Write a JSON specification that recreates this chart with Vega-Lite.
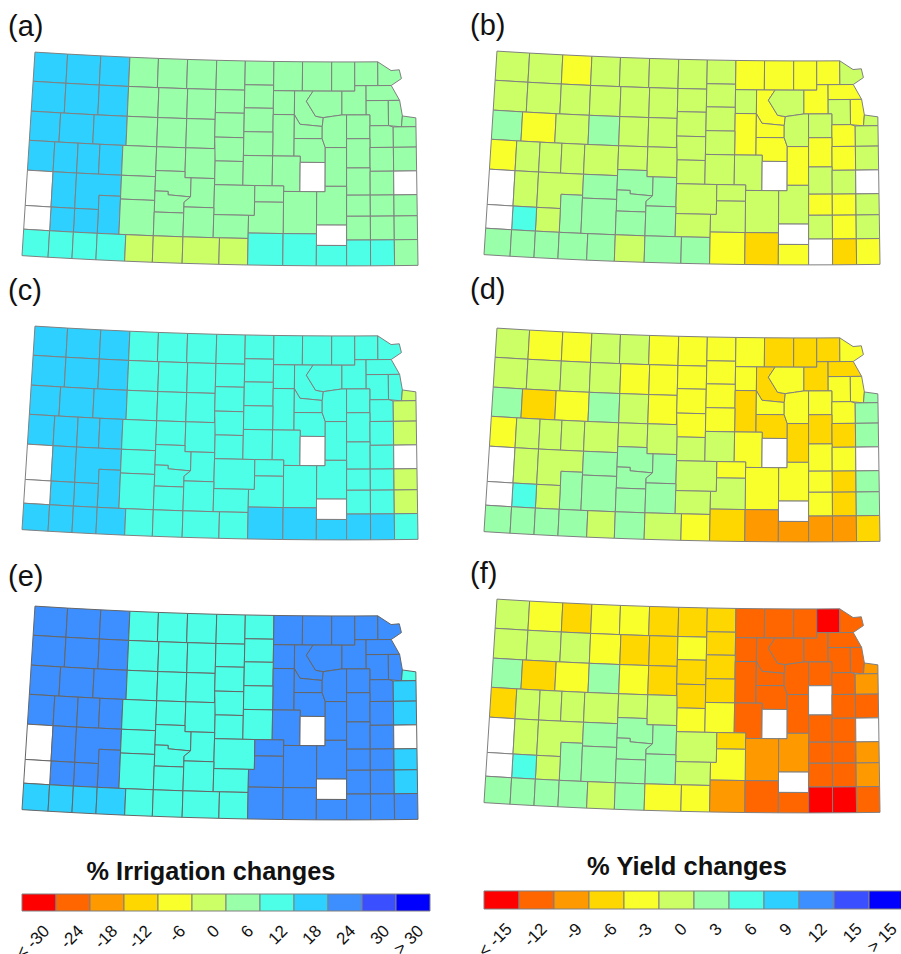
{"$schema":"https://vega.github.io/schema/vega-lite/v6.json","padding":{"left":8,"top":12,"right":0,"bottom":0},"background":"white","config":{"view":{"stroke":null},"font":"Liberation Sans","title":{"font":"Liberation Sans"}},
"datasets":{"counties":[
{"type":"Feature","properties":{"n":"Cheyenne","a":9,"b":6,"c":9,"d":6,"e":10,"f":6},"geometry":{"type":"Polygon","coordinates":[[[-102.05,40],[-101.41,40],[-101.41,39.57],[-102.05,39.57],[-102.05,40]]]}},
{"type":"Feature","properties":{"n":"Rawlins","a":9,"b":6,"c":9,"d":5,"e":10,"f":5},"geometry":{"type":"Polygon","coordinates":[[[-101.41,40],[-100.76,40],[-100.76,39.57],[-101.41,39.57],[-101.41,40]]]}},
{"type":"Feature","properties":{"n":"Decatur","a":9,"b":5,"c":9,"d":5,"e":10,"f":4},"geometry":{"type":"Polygon","coordinates":[[[-100.76,40],[-100.19,40],[-100.19,39.57],[-100.76,39.57],[-100.76,40]]]}},
{"type":"Feature","properties":{"n":"Norton","a":7,"b":6,"c":8,"d":6,"e":8,"f":5},"geometry":{"type":"Polygon","coordinates":[[[-100.19,40],[-99.63,40],[-99.63,39.57],[-100.19,39.57],[-100.19,40]]]}},
{"type":"Feature","properties":{"n":"Phillips","a":7,"b":6,"c":8,"d":6,"e":8,"f":5},"geometry":{"type":"Polygon","coordinates":[[[-99.63,40],[-99.06,40],[-99.06,39.57],[-99.63,39.57],[-99.63,40]]]}},
{"type":"Feature","properties":{"n":"Smith","a":7,"b":6,"c":8,"d":5,"e":8,"f":4},"geometry":{"type":"Polygon","coordinates":[[[-99.06,40],[-98.49,40],[-98.49,39.57],[-99.06,39.57],[-99.06,40]]]}},
{"type":"Feature","properties":{"n":"Jewell","a":7,"b":6,"c":8,"d":5,"e":8,"f":4},"geometry":{"type":"Polygon","coordinates":[[[-98.49,40],[-97.93,40],[-97.93,39.57],[-98.49,39.57],[-98.49,40]]]}},
{"type":"Feature","properties":{"n":"Republic","a":7,"b":6,"c":8,"d":5,"e":8,"f":4},"geometry":{"type":"Polygon","coordinates":[[[-97.93,40],[-97.37,40],[-97.37,39.65],[-97.93,39.65],[-97.93,40]]]}},
{"type":"Feature","properties":{"n":"Washington","a":7,"b":5,"c":8,"d":5,"e":10,"f":2},"geometry":{"type":"Polygon","coordinates":[[[-97.37,40],[-96.81,40],[-96.81,39.57],[-97.37,39.57],[-97.37,40]]]}},
{"type":"Feature","properties":{"n":"Marshall","a":7,"b":5,"c":8,"d":4,"e":10,"f":2},"geometry":{"type":"Polygon","coordinates":[[[-96.81,40],[-96.24,40],[-96.24,39.57],[-96.81,39.57],[-96.81,40]]]}},
{"type":"Feature","properties":{"n":"Nemaha","a":7,"b":5,"c":8,"d":4,"e":10,"f":2},"geometry":{"type":"Polygon","coordinates":[[[-96.24,40],[-95.79,40],[-95.79,39.57],[-96.24,39.57],[-96.24,40]]]}},
{"type":"Feature","properties":{"n":"Brown","a":7,"b":5,"c":8,"d":4,"e":10,"f":1},"geometry":{"type":"Polygon","coordinates":[[[-95.79,40],[-95.34,40],[-95.34,39.65],[-95.79,39.65],[-95.79,40]]]}},
{"type":"Feature","properties":{"n":"Doniphan","a":7,"b":6,"c":8,"d":5,"e":10,"f":2},"geometry":{"type":"Polygon","coordinates":[[[-95.34,40],[-95.08,39.87],[-94.92,39.88],[-94.88,39.75],[-95.08,39.65],[-95.34,39.65],[-95.34,40]]]}},
{"type":"Feature","properties":{"n":"Sherman","a":9,"b":6,"c":9,"d":6,"e":10,"f":6},"geometry":{"type":"Polygon","coordinates":[[[-102.05,39.57],[-101.41,39.57],[-101.41,39.13],[-102.05,39.13],[-102.05,39.57]]]}},
{"type":"Feature","properties":{"n":"Thomas","a":9,"b":6,"c":9,"d":6,"e":10,"f":6},"geometry":{"type":"Polygon","coordinates":[[[-101.41,39.57],[-100.76,39.57],[-100.76,39.13],[-101.41,39.13],[-101.41,39.57]]]}},
{"type":"Feature","properties":{"n":"Sheridan","a":9,"b":6,"c":9,"d":6,"e":10,"f":6},"geometry":{"type":"Polygon","coordinates":[[[-100.76,39.57],[-100.19,39.57],[-100.19,39.13],[-100.76,39.13],[-100.76,39.57]]]}},
{"type":"Feature","properties":{"n":"Graham","a":7,"b":6,"c":8,"d":6,"e":8,"f":5},"geometry":{"type":"Polygon","coordinates":[[[-100.19,39.57],[-99.6,39.57],[-99.6,39.13],[-100.19,39.13],[-100.19,39.57]]]}},
{"type":"Feature","properties":{"n":"Rooks","a":7,"b":6,"c":8,"d":5,"e":8,"f":4},"geometry":{"type":"Polygon","coordinates":[[[-99.6,39.57],[-99.04,39.57],[-99.04,39.13],[-99.6,39.13],[-99.6,39.57]]]}},
{"type":"Feature","properties":{"n":"Osborne","a":7,"b":6,"c":8,"d":5,"e":8,"f":4},"geometry":{"type":"Polygon","coordinates":[[[-99.04,39.57],[-98.49,39.57],[-98.49,39.13],[-99.04,39.13],[-99.04,39.57]]]}},
{"type":"Feature","properties":{"n":"Mitchell","a":7,"b":6,"c":8,"d":5,"e":8,"f":5},"geometry":{"type":"Polygon","coordinates":[[[-98.49,39.57],[-97.93,39.57],[-97.93,39.23],[-98.49,39.23],[-98.49,39.57]]]}},
{"type":"Feature","properties":{"n":"Cloud","a":7,"b":6,"c":8,"d":5,"e":8,"f":4},"geometry":{"type":"Polygon","coordinates":[[[-97.93,39.65],[-97.37,39.65],[-97.37,39.31],[-97.93,39.31],[-97.93,39.65]]]}},
{"type":"Feature","properties":{"n":"Clay","a":7,"b":6,"c":8,"d":5,"e":10,"f":2},"geometry":{"type":"Polygon","coordinates":[[[-97.37,39.57],[-96.96,39.57],[-96.96,39.22],[-97.37,39.22],[-97.37,39.57]]]}},
{"type":"Feature","properties":{"n":"Riley","a":7,"b":5,"c":8,"d":4,"e":10,"f":2},"geometry":{"type":"Polygon","coordinates":[[[-96.96,39.57],[-96.6,39.57],[-96.73,39.42],[-96.55,39.2],[-96.4,39.18],[-96.42,39.05],[-96.85,39.08],[-96.96,39.22],[-96.96,39.57]]]}},
{"type":"Feature","properties":{"n":"Pottawatomie","a":7,"b":6,"c":8,"d":5,"e":10,"f":2},"geometry":{"type":"Polygon","coordinates":[[[-96.6,39.57],[-96.04,39.57],[-96.04,39.22],[-96.22,39.2],[-96.4,39.18],[-96.55,39.2],[-96.73,39.42],[-96.6,39.57]]]}},
{"type":"Feature","properties":{"n":"Jackson","a":7,"b":5,"c":8,"d":4,"e":10,"f":2},"geometry":{"type":"Polygon","coordinates":[[[-96.04,39.57],[-95.79,39.57],[-95.79,39.65],[-95.57,39.65],[-95.57,39.22],[-96.04,39.22],[-96.04,39.57]]]}},
{"type":"Feature","properties":{"n":"Atchison","a":7,"b":5,"c":8,"d":4,"e":10,"f":2},"geometry":{"type":"Polygon","coordinates":[[[-95.57,39.65],[-95.08,39.65],[-94.92,39.43],[-95.57,39.43],[-95.57,39.65]]]}},
{"type":"Feature","properties":{"n":"Jefferson","a":7,"b":6,"c":8,"d":5,"e":10,"f":2},"geometry":{"type":"Polygon","coordinates":[[[-95.57,39.43],[-95.14,39.43],[-95.14,39.06],[-95.5,39.06],[-95.5,39.22],[-95.57,39.22],[-95.57,39.43]]]}},
{"type":"Feature","properties":{"n":"Leavenworth","a":7,"b":5,"c":8,"d":5,"e":10,"f":2},"geometry":{"type":"Polygon","coordinates":[[[-95.14,39.43],[-94.92,39.43],[-94.87,39.2],[-94.89,39.04],[-95.14,39.06],[-95.14,39.43]]]}},
{"type":"Feature","properties":{"n":"Wyandotte","a":7,"b":6,"c":6,"d":7,"e":8,"f":3},"geometry":{"type":"Polygon","coordinates":[[[-94.87,39.2],[-94.61,39.17],[-94.61,39.04],[-94.89,39.04],[-94.87,39.2]]]}},
{"type":"Feature","properties":{"n":"Wallace","a":9,"b":7,"c":9,"d":7,"e":10,"f":7},"geometry":{"type":"Polygon","coordinates":[[[-102.05,39.13],[-101.48,39.13],[-101.48,38.7],[-102.05,38.7],[-102.05,39.13]]]}},
{"type":"Feature","properties":{"n":"Logan","a":9,"b":5,"c":9,"d":4,"e":10,"f":4},"geometry":{"type":"Polygon","coordinates":[[[-101.48,39.13],[-100.83,39.13],[-100.83,38.7],[-101.48,38.7],[-101.48,39.13]]]}},
{"type":"Feature","properties":{"n":"Gove","a":9,"b":6,"c":9,"d":5,"e":10,"f":5},"geometry":{"type":"Polygon","coordinates":[[[-100.83,39.13],[-100.19,39.13],[-100.19,38.7],[-100.83,38.7],[-100.83,39.13]]]}},
{"type":"Feature","properties":{"n":"Trego","a":7,"b":7,"c":8,"d":7,"e":8,"f":7},"geometry":{"type":"Polygon","coordinates":[[[-100.19,39.13],[-99.6,39.13],[-99.6,38.7],[-100.19,38.7],[-100.19,39.13]]]}},
{"type":"Feature","properties":{"n":"Ellis","a":7,"b":6,"c":8,"d":6,"e":8,"f":5},"geometry":{"type":"Polygon","coordinates":[[[-99.6,39.13],[-99.04,39.13],[-99.04,38.7],[-99.6,38.7],[-99.6,39.13]]]}},
{"type":"Feature","properties":{"n":"Russell","a":7,"b":6,"c":8,"d":5,"e":8,"f":4},"geometry":{"type":"Polygon","coordinates":[[[-99.04,39.13],[-98.49,39.13],[-98.49,38.7],[-99.04,38.7],[-99.04,39.13]]]}},
{"type":"Feature","properties":{"n":"Lincoln","a":7,"b":6,"c":8,"d":5,"e":8,"f":4},"geometry":{"type":"Polygon","coordinates":[[[-98.49,39.23],[-97.93,39.23],[-97.93,38.87],[-98.49,38.87],[-98.49,39.23]]]}},
{"type":"Feature","properties":{"n":"Ottawa","a":7,"b":6,"c":8,"d":5,"e":8,"f":4},"geometry":{"type":"Polygon","coordinates":[[[-97.93,39.31],[-97.37,39.31],[-97.37,38.96],[-97.93,38.96],[-97.93,39.31]]]}},
{"type":"Feature","properties":{"n":"Dickinson","a":7,"b":5,"c":8,"d":4,"e":10,"f":2},"geometry":{"type":"Polygon","coordinates":[[[-97.37,39.22],[-96.96,39.22],[-96.96,38.61],[-97.37,38.61],[-97.37,39.22]]]}},
{"type":"Feature","properties":{"n":"Geary","a":7,"b":5,"c":8,"d":5,"e":10,"f":2},"geometry":{"type":"Polygon","coordinates":[[[-96.96,39.22],[-96.85,39.08],[-96.42,39.05],[-96.42,38.87],[-96.96,38.87],[-96.96,39.22]]]}},
{"type":"Feature","properties":{"n":"Morris","a":7,"b":5,"c":8,"d":4,"e":10,"f":2},"geometry":{"type":"Polygon","coordinates":[[[-96.96,38.87],[-96.42,38.87],[-96.36,38.74],[-96.36,38.52],[-96.84,38.52],[-96.84,38.61],[-96.96,38.61],[-96.96,38.87]]]}},
{"type":"Feature","properties":{"n":"Wabaunsee","a":7,"b":6,"c":8,"d":5,"e":10,"f":2},"geometry":{"type":"Polygon","coordinates":[[[-96.42,39.05],[-96.4,39.18],[-96.22,39.2],[-96.04,39.22],[-95.95,39.22],[-95.95,38.74],[-96.36,38.74],[-96.42,38.87],[-96.42,39.05]]]}},
{"type":"Feature","properties":{"n":"Shawnee","a":7,"b":6,"c":8,"d":5,"e":10,"f":2},"geometry":{"type":"Polygon","coordinates":[[[-95.95,39.22],[-95.5,39.22],[-95.5,38.87],[-95.95,38.87],[-95.95,39.22]]]}},
{"type":"Feature","properties":{"n":"Douglas","a":7,"b":5,"c":8,"d":5,"e":10,"f":2},"geometry":{"type":"Polygon","coordinates":[[[-95.5,39.06],[-95.14,39.06],[-95.05,39.04],[-95.05,38.74],[-95.5,38.74],[-95.5,39.06]]]}},
{"type":"Feature","properties":{"n":"Johnson","a":7,"b":6,"c":6,"d":7,"e":9,"f":3},"geometry":{"type":"Polygon","coordinates":[[[-95.05,39.04],[-94.61,39.04],[-94.61,38.74],[-95.05,38.74],[-95.05,39.04]]]}},
{"type":"Feature","properties":{"n":"Greeley","a":9,"b":5,"c":9,"d":5,"e":10,"f":4},"geometry":{"type":"Polygon","coordinates":[[[-102.05,38.7],[-101.56,38.7],[-101.56,38.26],[-102.05,38.26],[-102.05,38.7]]]}},
{"type":"Feature","properties":{"n":"Wichita","a":9,"b":6,"c":9,"d":6,"e":10,"f":6},"geometry":{"type":"Polygon","coordinates":[[[-101.56,38.7],[-101.11,38.7],[-101.11,38.26],[-101.56,38.26],[-101.56,38.7]]]}},
{"type":"Feature","properties":{"n":"Scott","a":9,"b":6,"c":9,"d":6,"e":10,"f":6},"geometry":{"type":"Polygon","coordinates":[[[-101.11,38.7],[-100.69,38.7],[-100.69,38.26],[-101.11,38.26],[-101.11,38.7]]]}},
{"type":"Feature","properties":{"n":"Lane","a":9,"b":6,"c":9,"d":6,"e":10,"f":6},"geometry":{"type":"Polygon","coordinates":[[[-100.69,38.7],[-100.25,38.7],[-100.25,38.26],[-100.69,38.26],[-100.69,38.7]]]}},
{"type":"Feature","properties":{"n":"Ness","a":7,"b":6,"c":8,"d":6,"e":8,"f":6},"geometry":{"type":"Polygon","coordinates":[[[-100.25,38.7],[-99.6,38.7],[-99.6,38.26],[-100.25,38.26],[-100.25,38.7]]]}},
{"type":"Feature","properties":{"n":"Rush","a":7,"b":6,"c":8,"d":6,"e":8,"f":6},"geometry":{"type":"Polygon","coordinates":[[[-99.6,38.7],[-99.04,38.7],[-99.04,38.35],[-99.6,38.35],[-99.6,38.7]]]}},
{"type":"Feature","properties":{"n":"Barton","a":7,"b":6,"c":8,"d":6,"e":8,"f":6},"geometry":{"type":"Polygon","coordinates":[[[-99.04,38.7],[-98.47,38.7],[-98.47,38.26],[-98.92,38.26],[-99.04,38.26],[-99.04,38.7]]]}},
{"type":"Feature","properties":{"n":"Ellsworth","a":7,"b":6,"c":8,"d":5,"e":8,"f":4},"geometry":{"type":"Polygon","coordinates":[[[-98.49,38.87],[-97.93,38.87],[-97.93,38.52],[-98.47,38.52],[-98.49,38.87]]]}},
{"type":"Feature","properties":{"n":"Saline","a":7,"b":6,"c":8,"d":5,"e":8,"f":4},"geometry":{"type":"Polygon","coordinates":[[[-97.93,38.96],[-97.37,38.96],[-97.37,38.61],[-97.93,38.61],[-97.93,38.96]]]}},
{"type":"Feature","properties":{"n":"Rice","a":7,"b":6,"c":8,"d":6,"e":8,"f":5},"geometry":{"type":"Polygon","coordinates":[[[-98.47,38.52],[-97.93,38.52],[-97.93,38.17],[-98.47,38.17],[-98.47,38.52]]]}},
{"type":"Feature","properties":{"n":"McPherson","a":7,"b":6,"c":8,"d":6,"e":8,"f":5},"geometry":{"type":"Polygon","coordinates":[[[-97.93,38.61],[-97.37,38.61],[-97.37,38.17],[-97.93,38.17],[-97.93,38.61]]]}},
{"type":"Feature","properties":{"n":"Marion","a":7,"b":6,"c":8,"d":5,"e":10,"f":2},"geometry":{"type":"Polygon","coordinates":[[[-97.37,38.61],[-96.84,38.61],[-96.84,38.09],[-97.15,38.09],[-97.15,38.17],[-97.37,38.17],[-97.37,38.61]]]}},
{"type":"Feature","properties":{"n":"Chase","a":0,"b":0,"c":0,"d":0,"e":0,"f":0},"geometry":{"type":"Polygon","coordinates":[[[-96.84,38.52],[-96.36,38.52],[-96.36,38.09],[-96.84,38.09],[-96.84,38.52]]]}},
{"type":"Feature","properties":{"n":"Lyon","a":7,"b":5,"c":8,"d":4,"e":10,"f":2},"geometry":{"type":"Polygon","coordinates":[[[-96.36,38.74],[-95.95,38.74],[-95.95,38.17],[-96.36,38.17],[-96.36,38.74]]]}},
{"type":"Feature","properties":{"n":"Osage","a":7,"b":5,"c":8,"d":4,"e":10,"f":0},"geometry":{"type":"Polygon","coordinates":[[[-95.95,38.87],[-95.5,38.87],[-95.5,38.44],[-95.95,38.44],[-95.95,38.87]]]}},
{"type":"Feature","properties":{"n":"Franklin","a":7,"b":5,"c":8,"d":4,"e":10,"f":2},"geometry":{"type":"Polygon","coordinates":[[[-95.5,38.74],[-95.05,38.74],[-95.05,38.39],[-95.5,38.39],[-95.5,38.74]]]}},
{"type":"Feature","properties":{"n":"Miami","a":7,"b":6,"c":6,"d":7,"e":9,"f":2},"geometry":{"type":"Polygon","coordinates":[[[-95.05,38.74],[-94.61,38.74],[-94.61,38.39],[-95.05,38.39],[-95.05,38.74]]]}},
{"type":"Feature","properties":{"n":"Coffey","a":7,"b":6,"c":8,"d":5,"e":10,"f":2},"geometry":{"type":"Polygon","coordinates":[[[-95.95,38.44],[-95.5,38.44],[-95.5,38.04],[-95.95,38.04],[-95.95,38.44]]]}},
{"type":"Feature","properties":{"n":"Anderson","a":7,"b":6,"c":8,"d":5,"e":10,"f":2},"geometry":{"type":"Polygon","coordinates":[[[-95.5,38.39],[-95.05,38.39],[-95.05,38.04],[-95.5,38.04],[-95.5,38.39]]]}},
{"type":"Feature","properties":{"n":"Linn","a":0,"b":0,"c":0,"d":0,"e":0,"f":0},"geometry":{"type":"Polygon","coordinates":[[[-95.05,38.39],[-94.61,38.39],[-94.61,38.04],[-95.05,38.04],[-95.05,38.39]]]}},
{"type":"Feature","properties":{"n":"Hamilton","a":0,"b":0,"c":0,"d":0,"e":0,"f":0},"geometry":{"type":"Polygon","coordinates":[[[-102.05,38.26],[-101.56,38.26],[-101.56,37.74],[-102.05,37.74],[-102.05,38.26]]]}},
{"type":"Feature","properties":{"n":"Kearny","a":9,"b":6,"c":9,"d":6,"e":10,"f":6},"geometry":{"type":"Polygon","coordinates":[[[-101.56,38.26],[-101.11,38.26],[-101.11,37.74],[-101.56,37.74],[-101.56,38.26]]]}},
{"type":"Feature","properties":{"n":"Finney","a":9,"b":6,"c":9,"d":6,"e":10,"f":6},"geometry":{"type":"Polygon","coordinates":[[[-101.11,38.26],[-100.25,38.26],[-100.25,37.95],[-100.66,37.95],[-100.66,37.74],[-101.11,37.74],[-101.11,38.26]]]}},
{"type":"Feature","properties":{"n":"Hodgeman","a":7,"b":7,"c":8,"d":7,"e":8,"f":7},"geometry":{"type":"Polygon","coordinates":[[[-100.25,38.26],[-99.6,38.26],[-99.6,37.91],[-100.25,37.91],[-100.25,38.26]]]}},
{"type":"Feature","properties":{"n":"Pawnee","a":7,"b":7,"c":8,"d":7,"e":8,"f":7},"geometry":{"type":"Polygon","coordinates":[[[-99.6,38.35],[-99.04,38.35],[-99.04,38.26],[-98.92,38.26],[-98.92,37.98],[-99.35,38],[-99.35,38.05],[-99.6,38.05],[-99.6,38.35]]]}},
{"type":"Feature","properties":{"n":"Edwards","a":7,"b":7,"c":8,"d":7,"e":8,"f":7},"geometry":{"type":"Polygon","coordinates":[[[-99.6,38.05],[-99.35,38.05],[-99.35,38],[-98.92,37.98],[-99.04,37.9],[-99.04,37.74],[-99.6,37.74],[-99.6,38.05]]]}},
{"type":"Feature","properties":{"n":"Stafford","a":7,"b":7,"c":8,"d":7,"e":8,"f":7},"geometry":{"type":"Polygon","coordinates":[[[-98.92,38.26],[-98.47,38.26],[-98.47,37.83],[-99.04,37.83],[-99.04,37.9],[-98.92,37.98],[-98.92,38.26]]]}},
{"type":"Feature","properties":{"n":"Reno","a":7,"b":6,"c":8,"d":6,"e":8,"f":6},"geometry":{"type":"Polygon","coordinates":[[[-98.47,38.17],[-97.7,38.17],[-97.7,37.73],[-98.47,37.73],[-98.47,38.17]]]}},
{"type":"Feature","properties":{"n":"Harvey","a":7,"b":6,"c":8,"d":5,"e":10,"f":4},"geometry":{"type":"Polygon","coordinates":[[[-97.7,38.17],[-97.15,38.17],[-97.15,37.93],[-97.7,37.93],[-97.7,38.17]]]}},
{"type":"Feature","properties":{"n":"Butler","a":7,"b":6,"c":8,"d":5,"e":10,"f":3},"geometry":{"type":"Polygon","coordinates":[[[-97.15,38.09],[-96.52,38.09],[-96.52,37.47],[-97.15,37.47],[-97.15,38.09]]]}},
{"type":"Feature","properties":{"n":"Greenwood","a":7,"b":6,"c":8,"d":5,"e":10,"f":3},"geometry":{"type":"Polygon","coordinates":[[[-96.52,38.09],[-96.36,38.09],[-96.36,38.17],[-95.95,38.17],[-95.95,37.6],[-96.52,37.6],[-96.52,38.09]]]}},
{"type":"Feature","properties":{"n":"Woodson","a":7,"b":5,"c":8,"d":5,"e":10,"f":2},"geometry":{"type":"Polygon","coordinates":[[[-95.95,38.04],[-95.5,38.04],[-95.5,37.73],[-95.95,37.73],[-95.95,38.04]]]}},
{"type":"Feature","properties":{"n":"Allen","a":7,"b":5,"c":8,"d":4,"e":10,"f":2},"geometry":{"type":"Polygon","coordinates":[[[-95.5,38.04],[-95.05,38.04],[-95.05,37.73],[-95.5,37.73],[-95.5,38.04]]]}},
{"type":"Feature","properties":{"n":"Bourbon","a":7,"b":6,"c":6,"d":7,"e":9,"f":3},"geometry":{"type":"Polygon","coordinates":[[[-95.05,38.04],[-94.61,38.04],[-94.61,37.73],[-95.05,37.73],[-95.05,38.04]]]}},
{"type":"Feature","properties":{"n":"Gray","a":9,"b":7,"c":9,"d":7,"e":10,"f":7},"geometry":{"type":"Polygon","coordinates":[[[-100.66,37.95],[-100.25,37.95],[-100.25,37.39],[-100.66,37.39],[-100.66,37.95]]]}},
{"type":"Feature","properties":{"n":"Ford","a":7,"b":7,"c":8,"d":7,"e":8,"f":7},"geometry":{"type":"Polygon","coordinates":[[[-100.25,37.91],[-99.6,37.91],[-99.6,37.39],[-100.25,37.39],[-100.25,37.91]]]}},
{"type":"Feature","properties":{"n":"Haskell","a":9,"b":6,"c":9,"d":6,"e":10,"f":6},"geometry":{"type":"Polygon","coordinates":[[[-101.11,37.74],[-100.66,37.74],[-100.66,37.39],[-101.11,37.39],[-101.11,37.74]]]}},
{"type":"Feature","properties":{"n":"Grant","a":9,"b":8,"c":9,"d":8,"e":10,"f":8},"geometry":{"type":"Polygon","coordinates":[[[-101.56,37.74],[-101.11,37.74],[-101.11,37.39],[-101.56,37.39],[-101.56,37.74]]]}},
{"type":"Feature","properties":{"n":"Stanton","a":0,"b":0,"c":0,"d":0,"e":0,"f":0},"geometry":{"type":"Polygon","coordinates":[[[-102.05,37.74],[-101.56,37.74],[-101.56,37.39],[-102.05,37.39],[-102.05,37.74]]]}},
{"type":"Feature","properties":{"n":"Kiowa","a":7,"b":7,"c":8,"d":7,"e":8,"f":7},"geometry":{"type":"Polygon","coordinates":[[[-99.6,37.74],[-99.04,37.74],[-99.04,37.39],[-99.6,37.39],[-99.6,37.74]]]}},
{"type":"Feature","properties":{"n":"Pratt","a":7,"b":7,"c":8,"d":7,"e":8,"f":7},"geometry":{"type":"Polygon","coordinates":[[[-99.04,37.83],[-98.47,37.83],[-98.47,37.39],[-99.04,37.39],[-99.04,37.83]]]}},
{"type":"Feature","properties":{"n":"Kingman","a":7,"b":6,"c":8,"d":6,"e":8,"f":6},"geometry":{"type":"Polygon","coordinates":[[[-98.47,37.73],[-97.81,37.73],[-97.81,37.39],[-98.47,37.39],[-98.47,37.73]]]}},
{"type":"Feature","properties":{"n":"Sedgwick","a":7,"b":6,"c":8,"d":6,"e":10,"f":5},"geometry":{"type":"Polygon","coordinates":[[[-97.7,37.93],[-97.15,37.93],[-97.15,37.47],[-97.81,37.47],[-97.81,37.73],[-97.7,37.73],[-97.7,37.93]]]}},
{"type":"Feature","properties":{"n":"Elk","a":0,"b":0,"c":0,"d":0,"e":0,"f":0},"geometry":{"type":"Polygon","coordinates":[[[-96.52,37.6],[-95.95,37.6],[-95.95,37.3],[-96.52,37.3],[-96.52,37.6]]]}},
{"type":"Feature","properties":{"n":"Wilson","a":7,"b":6,"c":8,"d":5,"e":10,"f":2},"geometry":{"type":"Polygon","coordinates":[[[-95.95,37.73],[-95.5,37.73],[-95.5,37.38],[-95.95,37.38],[-95.95,37.73]]]}},
{"type":"Feature","properties":{"n":"Neosho","a":7,"b":5,"c":8,"d":4,"e":10,"f":2},"geometry":{"type":"Polygon","coordinates":[[[-95.5,37.73],[-95.05,37.73],[-95.05,37.38],[-95.5,37.38],[-95.5,37.73]]]}},
{"type":"Feature","properties":{"n":"Crawford","a":7,"b":6,"c":6,"d":7,"e":9,"f":3},"geometry":{"type":"Polygon","coordinates":[[[-95.05,37.73],[-94.61,37.73],[-94.61,37.38],[-95.05,37.38],[-95.05,37.73]]]}},
{"type":"Feature","properties":{"n":"Morton","a":8,"b":7,"c":9,"d":7,"e":9,"f":7},"geometry":{"type":"Polygon","coordinates":[[[-102.05,37.39],[-101.56,37.39],[-101.56,37],[-102.05,37],[-102.05,37.39]]]}},
{"type":"Feature","properties":{"n":"Stevens","a":8,"b":7,"c":9,"d":7,"e":9,"f":7},"geometry":{"type":"Polygon","coordinates":[[[-101.56,37.39],[-101.11,37.39],[-101.11,37],[-101.56,37],[-101.56,37.39]]]}},
{"type":"Feature","properties":{"n":"Seward","a":8,"b":7,"c":9,"d":7,"e":9,"f":7},"geometry":{"type":"Polygon","coordinates":[[[-101.11,37.39],[-100.66,37.39],[-100.66,37],[-101.11,37],[-101.11,37.39]]]}},
{"type":"Feature","properties":{"n":"Meade","a":8,"b":7,"c":9,"d":7,"e":9,"f":7},"geometry":{"type":"Polygon","coordinates":[[[-100.66,37.39],[-100.12,37.39],[-100.12,37],[-100.66,37],[-100.66,37.39]]]}},
{"type":"Feature","properties":{"n":"Clark","a":6,"b":7,"c":8,"d":6,"e":8,"f":6},"geometry":{"type":"Polygon","coordinates":[[[-100.12,37.39],[-99.6,37.39],[-99.6,37],[-100.12,37],[-100.12,37.39]]]}},
{"type":"Feature","properties":{"n":"Comanche","a":6,"b":6,"c":8,"d":7,"e":8,"f":7},"geometry":{"type":"Polygon","coordinates":[[[-99.6,37.39],[-99.04,37.39],[-99.04,37],[-99.6,37],[-99.6,37.39]]]}},
{"type":"Feature","properties":{"n":"Barber","a":6,"b":7,"c":8,"d":6,"e":8,"f":5},"geometry":{"type":"Polygon","coordinates":[[[-99.04,37.39],[-98.35,37.39],[-98.35,37],[-99.04,37],[-99.04,37.39]]]}},
{"type":"Feature","properties":{"n":"Harper","a":6,"b":7,"c":8,"d":5,"e":8,"f":5},"geometry":{"type":"Polygon","coordinates":[[[-98.35,37.39],[-97.81,37.39],[-97.81,37],[-98.35,37],[-98.35,37.39]]]}},
{"type":"Feature","properties":{"n":"Sumner","a":8,"b":5,"c":9,"d":4,"e":10,"f":3},"geometry":{"type":"Polygon","coordinates":[[[-97.81,37.47],[-97.15,37.47],[-97.15,37],[-97.81,37],[-97.81,37.47]]]}},
{"type":"Feature","properties":{"n":"Cowley","a":8,"b":4,"c":9,"d":3,"e":10,"f":2},"geometry":{"type":"Polygon","coordinates":[[[-97.15,37.47],[-96.52,37.47],[-96.52,37],[-97.15,37],[-97.15,37.47]]]}},
{"type":"Feature","properties":{"n":"Chautauqua","a":8,"b":5,"c":9,"d":3,"e":10,"f":2},"geometry":{"type":"Polygon","coordinates":[[[-96.52,37.3],[-95.95,37.3],[-95.95,37],[-96.52,37],[-96.52,37.3]]]}},
{"type":"Feature","properties":{"n":"Montgomery","a":8,"b":0,"c":9,"d":3,"e":10,"f":1},"geometry":{"type":"Polygon","coordinates":[[[-95.95,37.38],[-95.5,37.38],[-95.5,37],[-95.95,37],[-95.95,37.38]]]}},
{"type":"Feature","properties":{"n":"Labette","a":8,"b":4,"c":9,"d":3,"e":10,"f":1},"geometry":{"type":"Polygon","coordinates":[[[-95.5,37.38],[-95.05,37.38],[-95.05,37],[-95.5,37],[-95.5,37.38]]]}},
{"type":"Feature","properties":{"n":"Cherokee","a":7,"b":5,"c":8,"d":4,"e":10,"f":2},"geometry":{"type":"Polygon","coordinates":[[[-95.05,37.38],[-94.61,37.38],[-94.61,37],[-95.05,37],[-95.05,37.38]]]}}
],
"irrig":[{"l":"< -30","k":1},{"l":"-24","k":2},{"l":"-18","k":3},{"l":"-12","k":4},{"l":"-6","k":5},{"l":"0","k":6},{"l":"6","k":7},{"l":"12","k":8},{"l":"18","k":9},{"l":"24","k":10},{"l":"30","k":11},{"l":"> 30","k":12}],
"yield":[{"l":"< -15","k":1},{"l":"-12","k":2},{"l":"-9","k":3},{"l":"-6","k":4},{"l":"-3","k":5},{"l":"0","k":6},{"l":"3","k":7},{"l":"6","k":8},{"l":"9","k":9},{"l":"12","k":10},{"l":"15","k":11},{"l":"> 15","k":12}]},
"hconcat":[
{"vconcat":[
{"width":396,"height":230,"title":{"text":"(a)","anchor":"start","dx":-12,"dy":2,"fontSize":29,"fontWeight":"normal","color":"#111"},"data":{"name":"counties"},"projection":{"type":"albers"},"mark":{"type":"geoshape","stroke":"#808080","strokeWidth":1},"encoding":{"color":{"field":"properties.a","type":"nominal","scale":{"domain":[0,1,2,3,4,5,6,7,8,9,10,11,12],"range":["#ffffff","#ff0000","#ff6600","#ff9900","#ffd700","#f9ff2a","#ccff66","#99ffa8","#4dffe6","#2dd0ff","#3d8eff","#3a4fff","#0000ff"]},"legend":null}}},
{"width":396,"height":216,"title":{"text":"(c)","anchor":"start","dx":-12,"dy":-14,"fontSize":29,"fontWeight":"normal","color":"#111"},"data":{"name":"counties"},"projection":{"type":"albers"},"mark":{"type":"geoshape","stroke":"#808080","strokeWidth":1},"encoding":{"color":{"field":"properties.c","type":"nominal","legend":null}}},
{"width":396,"height":242,"title":{"text":"(e)","anchor":"start","dx":-12,"dy":4,"fontSize":29,"fontWeight":"normal","color":"#111"},"data":{"name":"counties"},"projection":{"type":"albers"},"mark":{"type":"geoshape","stroke":"#666666","strokeWidth":1},"encoding":{"color":{"field":"properties.e","type":"nominal","legend":null}}},
{"width":408,"height":26,"title":{"text":"% Irrigation changes","fontSize":25.3,"fontWeight":"bold","color":"#111","dx":-15,"offset":0},"data":{"name":"irrig"},"mark":{"type":"rect","stroke":"#808080","strokeWidth":1},"encoding":{"x":{"field":"l","type":"nominal","sort":null,"title":null,"axis":{"labelAngle":-45,"labelAlign":"right","labelBaseline":"middle","labelFontSize":17,"labelPadding":17,"labelOffset":8,"ticks":false,"domain":false,"labelColor":"#111"},"scale":{"paddingInner":0,"paddingOuter":0}},"y":{"datum":0,"type":"quantitative","scale":{"domain":[0,1.53]},"axis":null},"y2":{"datum":1},"color":{"field":"k","type":"nominal","legend":null}}}
],"spacing":51,"bounds":"flush"},
{"vconcat":[
{"width":396,"height":228,"title":{"text":"(b)","anchor":"start","dx":-12,"dy":1,"fontSize":29,"fontWeight":"normal","color":"#111"},"data":{"name":"counties"},"projection":{"type":"albers"},"mark":{"type":"geoshape","stroke":"#808080","strokeWidth":1},"encoding":{"color":{"field":"properties.b","type":"nominal","legend":null}}},
{"width":396,"height":216,"title":{"text":"(d)","anchor":"start","dx":-12,"dy":-17,"fontSize":29,"fontWeight":"normal","color":"#111"},"data":{"name":"counties"},"projection":{"type":"albers"},"mark":{"type":"geoshape","stroke":"#808080","strokeWidth":1},"encoding":{"color":{"field":"properties.d","type":"nominal","legend":null}}},
{"width":396,"height":216,"title":{"text":"(f)","anchor":"start","dx":-12,"dy":-4,"fontSize":29,"fontWeight":"normal","color":"#111"},"data":{"name":"counties"},"projection":{"type":"albers"},"mark":{"type":"geoshape","stroke":"#808080","strokeWidth":1},"encoding":{"color":{"field":"properties.f","type":"nominal","legend":null}}},
{"width":420,"height":40,"title":{"text":"% Yield changes","fontSize":25.5,"fontWeight":"bold","color":"#111","dx":-7,"dy":15},"data":{"name":"yield"},"mark":{"type":"rect","stroke":"#808080","strokeWidth":1},"encoding":{"x":{"field":"l","type":"nominal","sort":null,"title":null,"axis":{"labelAngle":-45,"labelAlign":"right","labelBaseline":"middle","labelFontSize":17,"labelPadding":17,"labelOffset":8,"ticks":false,"domain":false,"labelColor":"#111"},"scale":{"paddingInner":0,"paddingOuter":0}},"y":{"datum":0,"type":"quantitative","scale":{"domain":[0,2.22]},"axis":null},"y2":{"datum":1},"color":{"field":"k","type":"nominal","legend":null}}}
],"spacing":55,"bounds":"flush"}
],"spacing":39}
